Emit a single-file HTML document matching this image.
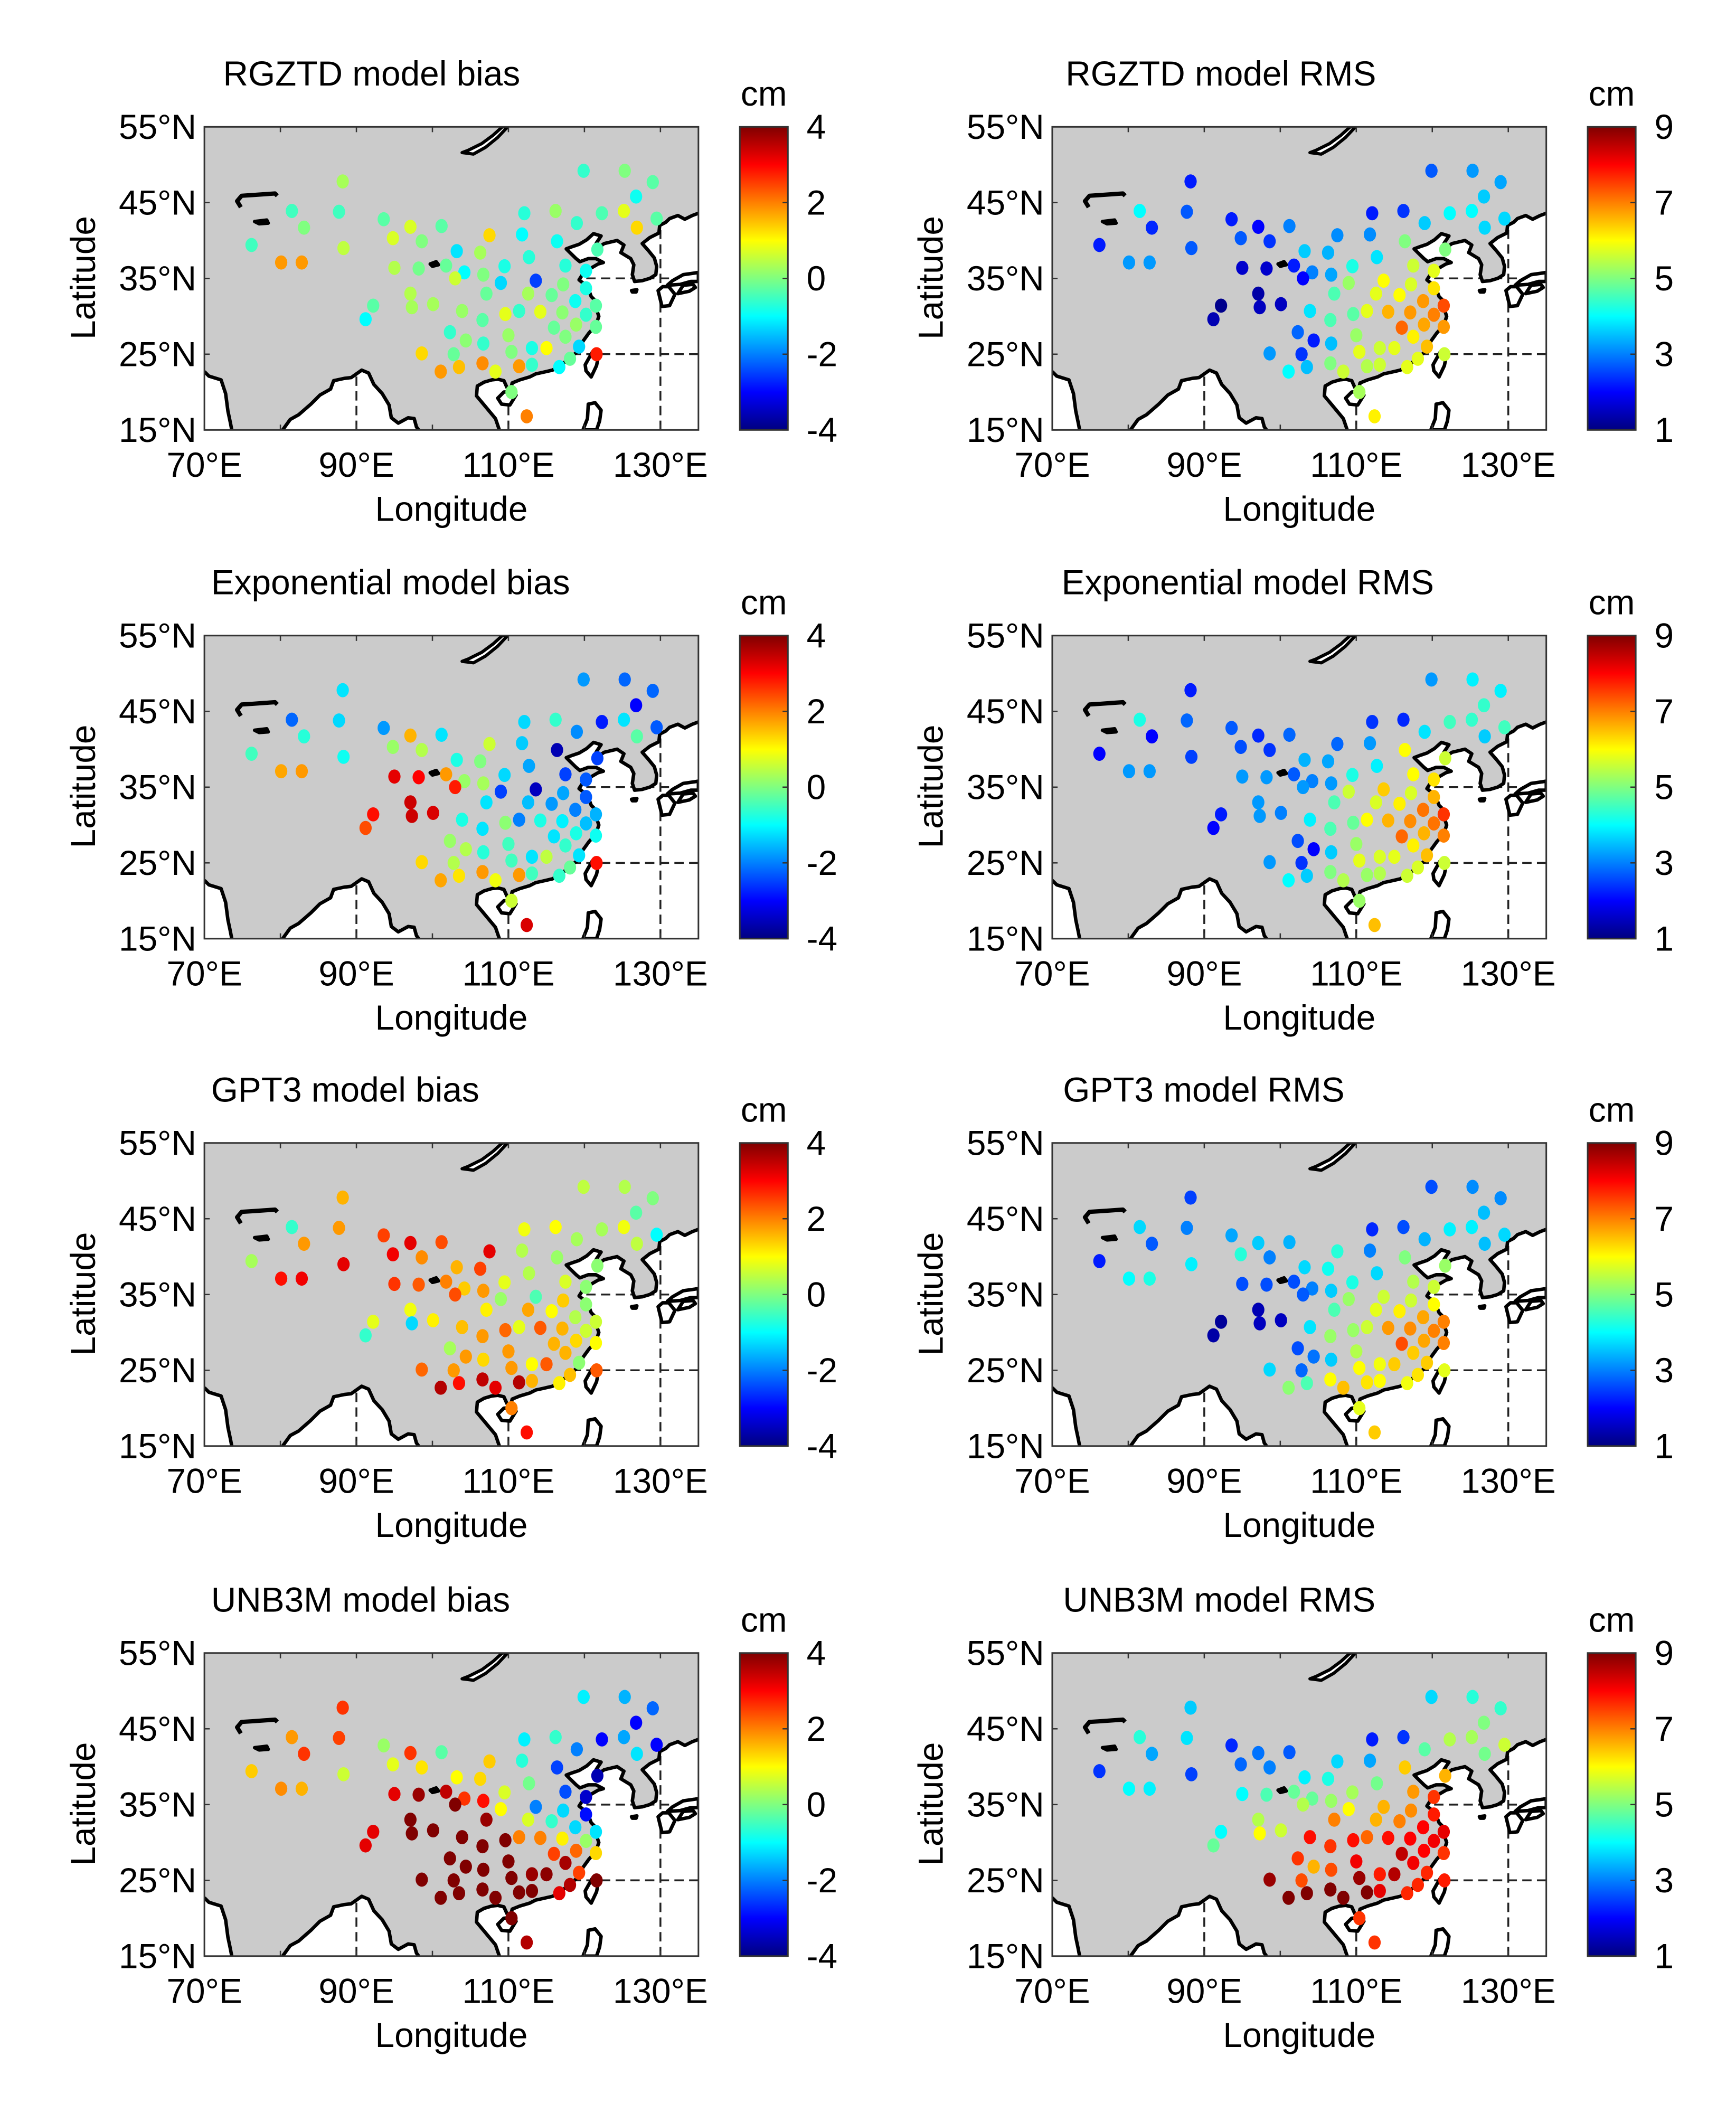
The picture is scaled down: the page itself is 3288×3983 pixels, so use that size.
<!DOCTYPE html>
<html><head><meta charset="utf-8"><style>
html,body{margin:0;padding:0;background:#fff;}
svg{display:block;}
text{font-family:"Liberation Sans",Arial,sans-serif;fill:#000;}
</style></head><body>
<svg id="fig" xmlns="http://www.w3.org/2000/svg" width="3288" height="3983" viewBox="0 0 1300 1575"></svg>
<script>
// ---- station data ----
const stationLon=[76.2,80.1,82.8,81.5,83.1,88.2,87.7,88.3,93.6,97.1,101.2,94.8,98.6,103.2,106.3,107.5,111.8,112.1,116.2,119.0,119.9,125.3,129.0,126.8,122.3,125.2,129.5,126.9,116.4,121.7,112.7,109.5,95.0,98.2,101.8,104.2,103.0,106.7,109.0,113.6,117.5,120.2,117.2,120.2,112.6,115.7,118.8,121.5,107.1,97.1,92.2,91.2,97.3,100.1,103.9,109.6,111.4,114.2,117.1,120.2,106.6,116.0,118.9,121.5,102.3,110.0,117.5,104.4,106.7,113.1,115.0,119.3,121.6,98.6,102.8,110.4,118.1,101.1,103.5,106.6,108.3,111.4,113.1,116.7,110.4,112.4];
const stationLat=[39.4,37.1,37.1,43.9,41.7,47.8,43.8,39.0,42.8,41.8,41.9,40.3,39.9,38.6,38.4,40.7,40.8,43.6,43.9,42.3,49.2,49.2,47.7,45.8,43.6,43.9,42.9,41.7,39.9,38.8,37.8,36.6,36.4,36.3,36.7,35.8,35.0,35.5,34.4,34.7,36.7,36.0,34.2,33.7,33.0,32.8,32.0,31.4,33.0,33.0,31.4,29.6,31.2,31.6,30.7,30.3,30.7,30.6,30.5,30.2,29.5,28.5,28.9,28.6,27.9,27.5,27.3,26.8,26.4,25.8,25.8,26.0,25.0,25.1,25.0,25.3,24.4,22.7,23.3,23.8,22.7,23.4,23.6,23.3,20.0,16.8];
const rgztdBias=[-0.5,1.8,1.8,-0.5,0,0.3,-0.5,0.5,-0.3,0.7,-0.3,0.7,0,-1.2,0.3,1.3,-1.0,-0.7,0.2,-0.6,-0.6,0,-0.3,-0.9,-0.4,0.8,-0.3,1.3,-0.9,-0.4,-0.7,-0.8,0.4,-0.1,-0.2,-1.0,0.6,0,-1.3,-2.5,-0.7,-0.9,0,-0.8,0.3,-0.2,-0.9,-0.3,-0.2,0.4,-0.3,-1.0,0.3,0.3,0.2,0.8,-0.6,0.8,0.1,-0.6,-0.3,-0.2,0.2,-0.2,-0.6,0.2,0,0.1,-0.6,-0.8,1.0,-1.3,2.8,1.3,-0.2,0,-0.2,1.8,1.5,1.9,0.8,1.8,-0.6,-1.0,0,2.0];
const rgztdRms=[2.2,3.2,3.2,4.0,2.3,2.2,2.7,2.7,2.2,2.0,3.0,2.7,2.4,3.6,3.4,3.1,3.1,2.2,2.4,3.6,2.7,3.2,3.3,3.6,4.0,4.0,3.7,3.7,5.0,5.0,3.8,4.2,1.6,1.6,2.2,3.0,2.0,3.3,5.2,6.0,5.6,5.8,5.7,6.2,5.8,6.0,6.8,7.4,4.6,1.3,1.1,1.4,1.5,1.5,3.8,4.7,5.8,6.6,6.8,7.0,4.6,7.2,6.7,6.8,2.8,5.2,6.1,2.2,3.5,5.6,5.8,6.5,5.6,3.2,2.4,5.8,5.8,4.0,3.5,5.0,5.6,5.4,5.6,5.8,5.3,6.1];
const expBias=[-0.5,1.7,1.8,-2.2,-0.7,-1.2,-1.3,-0.9,-1.8,1.6,-1.2,0.2,0.4,-0.8,0,0.6,-1.4,-1.3,-0.6,-1.9,-1.8,-2.2,-2.2,-3.0,-2.8,-1.2,-2.3,-0.3,-3.6,-2.5,-1.7,-1.3,3.2,3.0,1.8,0.2,2.8,0.3,-2.5,-3.5,-2.5,-2.3,-1.7,-2.3,-1.5,-1.8,-2.0,-1.6,-1.2,3.4,2.9,2.4,3.4,3.3,-0.8,0.1,-2.0,-0.8,-1.1,-1.5,-1.2,-1.2,-0.8,-0.9,0.2,-0.5,-0.6,0.4,-0.7,-1.2,0.5,-1.2,2.9,1.3,0.4,-0.5,-0.2,1.7,1.2,1.8,0.9,1.8,-0.5,-0.6,0.6,3.3];
const expRms=[2.0,3.2,3.2,4.2,2.0,2.2,2.8,2.5,2.7,2.3,2.8,2.6,2.4,3.4,3.3,2.8,3.2,2.4,2.3,3.8,3.2,3.9,3.9,4.4,4.5,4.4,4.5,3.6,6.0,5.6,3.9,4.2,3.2,3.2,2.7,3.0,3.2,3.2,5.6,6.4,6.0,6.2,5.7,6.6,5.7,6.1,7.1,7.6,4.6,3.2,2.2,2.0,3.2,3.0,3.9,4.8,6.0,6.6,6.9,7.1,4.6,7.2,6.6,7.0,2.6,5.2,6.1,2.0,3.6,5.7,5.8,6.5,5.6,3.2,2.4,5.8,5.7,4.0,3.6,5.0,5.4,5.2,5.4,5.6,5.2,6.5];
const gpt3Bias=[0.3,2.9,3.1,-0.6,1.8,1.6,1.8,3.2,2.5,3.2,2.4,3.1,1.9,1.6,2.5,3.2,0.4,0.9,1.0,0.3,0.5,0.4,0,-0.3,0.3,0.9,-1.0,0.5,0.2,0.1,0.4,0.8,2.6,2.3,2.0,1.4,2.4,1.8,0.2,-0.4,0.7,0.1,1.4,0.1,1.7,1.0,0.4,0.6,1.1,0.9,0.8,-0.6,-1.3,1.1,1.5,2.2,0.8,2.3,1.6,0.6,1.8,1.6,1.3,1.0,0.3,1.8,1.6,1.8,1.3,1.0,2.3,0.1,2.3,2.2,1.8,1.8,1.5,3.6,2.9,3.5,3.2,3.6,1.6,1.1,2.0,2.9];
const gpt3Rms=[2.2,4.0,4.2,3.7,2.7,2.5,3.0,3.9,3.3,3.6,3.4,4.3,3.0,3.7,4.1,4.3,3.0,2.3,2.6,3.4,2.6,3.1,3.1,3.5,3.9,3.9,3.7,3.5,5.0,5.2,3.7,4.2,2.6,2.6,2.6,3.0,2.7,3.6,5.2,5.6,5.4,5.6,5.6,6.0,5.8,6.1,6.7,7.0,4.6,1.4,1.2,1.3,1.5,1.5,3.8,5.2,5.6,6.8,6.9,7.0,5.2,7.4,6.7,7.0,2.6,5.4,6.4,2.9,3.6,5.9,6.4,6.4,5.8,3.7,2.8,6.0,6.2,5.1,4.6,6.0,6.5,6.2,6.0,5.9,5.8,6.4];
const unbBias=[1.4,1.9,1.6,1.8,2.6,2.6,2.5,0.6,0.2,2.6,-0.3,0.8,1.2,1.0,1.3,1.4,-0.7,-1.1,-0.6,-2.0,-1.1,-1.6,-2.2,-3.0,-3.0,-1.7,-3.0,-1.2,-2.5,-3.6,-0.1,0.7,3.2,3.8,3.5,2.6,4.0,2.9,1.0,-2.0,-2.4,-3.4,-1.3,-2.9,0.7,-0.6,-1.3,-1.2,3.8,4.0,3.2,3.2,4.0,4.0,4.0,4.0,2.0,2.0,1.1,0.2,4.0,2.5,2.2,1.3,4.0,4.0,3.7,4.0,4.0,3.8,3.9,2.5,4.0,4.0,4.0,4.0,3.6,4.0,4.0,4.0,4.0,4.0,4.0,3.2,4.0,3.6];
const unbRms=[2.4,4.0,3.9,4.3,3.3,3.6,3.8,2.5,2.3,2.9,2.7,2.8,3.0,3.9,4.2,3.7,3.3,2.2,2.4,4.7,3.7,4.3,4.4,5.0,5.4,5.3,5.6,4.9,6.4,6.6,4.9,5.3,4.0,4.6,4.8,4.8,5.4,5.2,6.0,6.6,6.8,7.6,6.9,7.8,6.6,7.0,8.0,8.2,7.0,5.4,4.0,4.8,6.0,5.6,7.9,7.9,7.2,7.9,8.0,8.1,7.6,8.5,8.0,7.6,7.6,8.1,8.1,6.6,7.4,7.8,8.6,7.7,7.8,8.8,7.4,8.8,7.7,9.0,9.0,9.0,9.0,9.0,8.2,7.7,7.6,7.6];
const panelTitles=["RGZTD model bias","RGZTD model RMS","Exponential model bias","Exponential model RMS","GPT3 model bias","GPT3 model RMS","UNB3M model bias","UNB3M model RMS"];
const panelValues=[rgztdBias,rgztdRms,expBias,expRms,gpt3Bias,gpt3Rms,unbBias,unbRms];
const biasTicks=[4,2,0,-2,-4];
const rmsTicks=[9,7,5,3,1];
const lonTicks=[70,90,110,130];
const latTicks=[55,45,35,25,15];

// ---- geometry (map outlines in lon/lat) ----
const coast=[[108.8,15],[108.3,16.5],[106.8,18.3],[105.8,19.5],[105.9,20.8],[106.8,21.3],[107.8,21.6],[108.6,21.7],[109.4,21.5],[109.8,20.6],[110.3,20.3],[110.5,21.2],[111.5,21.6],[112.8,22],[113.6,22.4],[114.5,22.6],[115.8,22.9],[117,23.6],[118.2,24.6],[119.3,25.5],[119.8,26.7],[120.6,27.8],[121.5,28.8],[121.9,30],[121.6,30.9],[121.9,31.6],[120.9,32.6],[120.4,33.9],[119.3,34.8],[119.8,35.6],[120.6,36.2],[121.8,36.9],[122.5,37.1],[121.5,37.6],[120.5,37.6],[119.4,37.2],[118.9,37.6],[118.1,38.4],[117.6,38.9],[118.4,39.2],[119.3,39.5],[120.3,40.1],[121.2,40.9],[122.2,40.6],[121.6,39.7],[121.2,38.9],[121.9,39.1],[122.6,39.6],[124.3,40],[125.2,39.4],[124.8,38.4],[126.1,37.6],[126.5,36.8],[126.3,35.5],[126.6,34.6],[127.6,34.7],[128.6,35],[129.4,35.5],[129.5,36.6],[129.2,37.7],[128.4,38.7],[127.6,39.6],[128.6,40.4],[129.8,41],[129.9,42],[130.7,42.4],[131.2,42.9],[132.3,43.3],[133.2,42.8],[134.2,43.3],[135,43.6]];
const arabian=[[70,22.7],[70.6,22.1],[72.2,21.6],[72.8,19.8],[73.1,17.5],[73.4,16],[73.6,15],[70,15]];
const bengal=[[80.3,15],[81.3,16.4],[82.4,17],[84,18.4],[85.2,19.6],[86.6,20.4],[87,21.5],[88.4,21.8],[89.3,21.9],[90.7,22.9],[91.6,22.5],[92.3,21],[93.4,19.8],[94.3,18.3],[94.6,16.6],[95.5,15.9],[96.8,16.6],[97.6,16.5],[97.9,15.4],[98.2,15]];
const taiwan=[[121.0,25.2],[121.9,25.0],[121.6,23.5],[120.9,22.0],[120.2,22.8],[120.1,23.6]];
const hainan=[[108.6,19.2],[109.4,20.0],[110.6,20.1],[111.0,19.6],[110.2,18.3],[109.1,18.4]];
const luzon=[[119.8,15],[120.4,16.5],[120.5,18.4],[121.4,18.6],[122.2,17.6],[122.0,16.2],[121.6,15]];
const kyushu=[[129.7,33.4],[130.2,31.3],[131.2,31.4],[131.9,32.9],[131.1,33.9],[130.3,33.9]];
const shikoku=[[132.3,33.0],[133.8,33.3],[134.6,33.8],[134.3,34.2],[133.0,34.1]];
const honshu=[[130.9,34.1],[131.6,34.7],[133.0,35.5],[134.5,35.7],[135,35.8],[135,34.6],[134.0,34.6],[132.6,34.2]];
const jeju=[[126.2,33.4],[126.9,33.5],[126.8,33.2],[126.3,33.2]];
const balkhash=[[74.8,44.4],[74.3,45.2],[74.9,45.9],[76.3,46.0],[77.8,46.1],[79.3,46.2],[79.6,45.9]];
const issyk=[[76.6,42.5],[78.2,42.7],[78.4,42.3],[77.2,42.2]];
const baikal=[[103.9,51.6],[105.4,51.4],[107.0,52.3],[108.6,53.6],[109.9,55],[109.2,55],[108.0,53.9],[106.5,52.8],[104.7,51.9]];
const qinghai=[[99.7,36.9],[100.5,37.2],[100.8,36.8],[100.0,36.6]];

const NS="http://www.w3.org/2000/svg";
const svg=document.getElementById('fig');
function mk(tag,attrs,parent){const e=document.createElementNS(NS,tag);for(const k in attrs)e.setAttribute(k,attrs[k]);(parent||svg).appendChild(e);return e;}
function jet(t){t=Math.max(0,Math.min(1,t));const c=v=>Math.round(255*Math.max(0,Math.min(1,v)));return `rgb(${c(1.5-Math.abs(4*t-3))},${c(1.5-Math.abs(4*t-2))},${c(1.5-Math.abs(4*t-1))})`;}

const MAP_W=370, MAP_H=227, X0=153, Y0=95;
const rowOff=[0,381,761,1143], colOff=[0,635];
const xScale=(lon,ox)=>X0+ox+(lon-70)*(MAP_W/65);
const yScale=(lat,oy)=>Y0+oy+MAP_H-(lat-15)*(MAP_H/40);

mk('rect',{x:0,y:0,width:1300,height:1575,fill:'#fff'});

for(let p=0;p<8;p++){
  const r=Math.floor(p/2), c=p%2, ox=colOff[c], oy=rowOff[r];
  const isBias=c===0, vmin=isBias?-4:1, vmax=isBias?4:9;
  const g=mk('g',{});
  
  
  const P=pts=>pts.map(q=>xScale(q[0],ox).toFixed(1)+','+yScale(q[1],oy).toFixed(1)).join(' ');
  const cid='clip'+p;
  const cp=mk('clipPath',{id:cid},g);
  mk('rect',{x:X0+ox,y:Y0+oy,width:MAP_W,height:MAP_H},cp);
  const mg=mk('g',{'clip-path':`url(#${cid})`},g);
  mk('rect',{x:X0+ox,y:Y0+oy,width:MAP_W,height:MAP_H,fill:'#cbcbcb'},mg);
  const seaPts=coast.concat([[135,15]]);
  const oc=mk('g',{fill:'#fff'},mg);
  
  
  mk('polygon',{points:P(seaPts)},oc);
  mk('polygon',{points:P(arabian)},oc);
  mk('polygon',{points:P(bengal.concat([[80.3,15]]))},oc);
  const ocid='oclip'+p;
  const ocp=mk('clipPath',{id:ocid},g);
  mk('polygon',{points:P(seaPts)},ocp);mk('polygon',{points:P(arabian)},ocp);mk('polygon',{points:P(bengal)},ocp);
  const gr=mk('g',{'clip-path':`url(#${ocid})`,stroke:'#222','stroke-width':1.4,'stroke-dasharray':'7,4',fill:'none'},mg);
  
  
  [90,110,130].forEach(l=>mk('line',{x1:xScale(l,ox),x2:xScale(l,ox),y1:Y0+oy,y2:Y0+oy+MAP_H},gr));
  [25,35].forEach(l=>mk('line',{x1:X0+ox,x2:X0+ox+MAP_W,y1:yScale(l,oy),y2:yScale(l,oy)},gr));
  const cl=mk('g',{stroke:'#000','stroke-width':2.6,'stroke-linejoin':'round'},mg);
  
  
  mk('polyline',{points:P(coast),fill:'none'},cl);
  mk('polyline',{points:P(arabian.slice(0,-1)),fill:'none'},cl);
  mk('polyline',{points:P(bengal),fill:'none'},cl);
  [taiwan,hainan,luzon,shikoku,honshu,jeju,kyushu].forEach(s=>mk('polygon',{points:P(s),fill:'#fff'},cl));
  mk('polyline',{points:P(balkhash),fill:'none','stroke-width':3.2},cl);
  mk('polygon',{points:P(issyk),fill:'#000'},cl);
  mk('polygon',{points:P(baikal),fill:'#fff','stroke-width':2.4},cl);
  mk('polygon',{points:P(qinghai),fill:'#000'},cl);
  const vals=panelValues[p];
  const sg=mk('g',{},mg);
  
  
  for(let i=0;i<stationLon.length;i++){
    const e=mk('ellipse',{cx:xScale(stationLon[i],ox).toFixed(1),cy:yScale(stationLat[i],oy).toFixed(1),rx:4.6,ry:5.3,fill:jet((vals[i]-vmin)/(vmax-vmin))},sg);
    
    
  }
  const fr=mk('rect',{x:X0+ox,y:Y0+oy,width:MAP_W,height:MAP_H,fill:'none',stroke:'#333','stroke-width':1.2},g);
  
  
  for(let l=70;l<=130;l+=10){const x=xScale(l,ox);mk('line',{x1:x,x2:x,y1:Y0+oy+MAP_H,y2:Y0+oy+MAP_H-4,stroke:'#333','stroke-width':1},g);mk('line',{x1:x,x2:x,y1:Y0+oy,y2:Y0+oy+4,stroke:'#333','stroke-width':1},g);}
  lonTicks.forEach(l=>{const t=mk('text',{x:xScale(l,ox),y:Y0+oy+MAP_H+35,'text-anchor':'middle','font-size':26},g);t.textContent=l+'°E';
    
    });
  latTicks.forEach(l=>{const y=yScale(l,oy);mk('line',{x1:X0+ox,x2:X0+ox+4,y1:y,y2:y,stroke:'#333','stroke-width':1},g);
    const t=mk('text',{x:X0+ox-6,y:y+9,'text-anchor':'end','font-size':26},g);t.textContent=l+'°N';
    
    });
  const xl=mk('text',{x:X0+ox+185,y:Y0+oy+MAP_H+68,'text-anchor':'middle','font-size':26},g);xl.textContent='Longitude';
  
  
  const yl=mk('text',{x:0,y:0,'text-anchor':'middle','font-size':26,transform:`translate(${X0+ox-82},${Y0+oy+113}) rotate(-90)`},g);yl.textContent='Latitude';
  
  
  const tt=mk('text',{x:(c===0?(r===0?167:158):(r===0?798:(r===1?795:796))),y:Y0+oy-31,'font-size':26},g);tt.textContent=panelTitles[p];
  
  
  const cbx=554+ox, cbw=36;
  const gid='grad'+p;
  const lg=mk('linearGradient',{id:gid,x1:0,y1:1,x2:0,y2:0},g);
  for(let k=0;k<=16;k++){mk('stop',{offset:(k/16),'stop-color':jet(k/16)},lg);}
  const cb=mk('rect',{x:cbx,y:Y0+oy,width:cbw,height:MAP_H,fill:`url(#${gid})`,stroke:'#333','stroke-width':1.2},g);
  
  
  const ticks=isBias?biasTicks:rmsTicks;
  ticks.forEach(v=>{const y=Y0+oy+MAP_H-(v-vmin)/(vmax-vmin)*MAP_H;
    mk('line',{x1:cbx+cbw-4,x2:cbx+cbw,y1:y,y2:y,stroke:'#333','stroke-width':1},g);
    const t=mk('text',{x:cbx+50,y:y+9,'font-size':26},g);t.textContent=v;
    
    });
  const cm=mk('text',{x:cbx+18,y:Y0+oy-16,'text-anchor':'middle','font-size':26},g);cm.textContent='cm';
  
  
}
</script>
</body></html>
